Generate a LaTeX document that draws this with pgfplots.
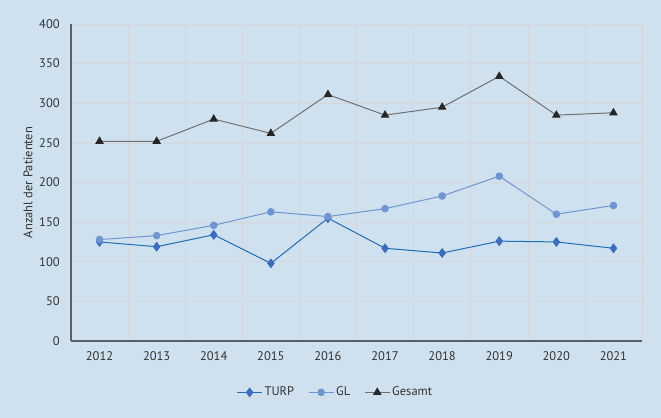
\documentclass[border=0pt]{standalone}
\usepackage{pgfplots}
\pgfplotsset{compat=1.18}
\usepackage{fontspec}
\setmainfont{PT Sans}
\definecolor{bg}{HTML}{CFE1EE}
\definecolor{gridc}{HTML}{D6D5DA}
\definecolor{axc}{HTML}{5A5F66}
\definecolor{turp}{HTML}{1F6DB8}
\definecolor{turpm}{HTML}{3A6CC0}
\definecolor{glc}{HTML}{6F96D0}
\definecolor{gesc}{HTML}{707070}
\begin{document}
\fontsize{12.5bp}{14bp}\selectfont
\begin{tikzpicture}
\fill[bg] (-71bp,-77bp) rectangle (590bp,341bp);
\useasboundingbox (-71bp,-77bp) rectangle (590bp,341bp);
\begin{axis}[
  at={(0,0)}, anchor=south west,
  scale only axis, width=571bp, height=317bp,
  xmin=2011.5, xmax=2021.5, ymin=0, ymax=400,
  xtick={2012,...,2021}, ytick={0,50,...,400},
  minor xtick={2012.5,2013.5,...,2021.5},
  xminorgrids, ymajorgrids,
  major grid style={gridc, line width=0.6bp},
  minor grid style={gridc, line width=0.6bp},
  axis x line*=bottom, axis y line*=left,
  axis line style={axc, line width=1.3bp, -},
  tick style={draw=none}, minor tick style={draw=none},
  /pgf/number format/1000 sep={},
  /pgf/number format/assume math mode=true,
  tick label style={font=\fontsize{12.5bp}{14bp}\selectfont, text=black!80},
  xticklabel style={yshift=-6bp},
  yticklabel style={xshift=-7bp},
  ylabel={Anzahl der Patienten},
  every axis y label/.style={at={([xshift=-43bp]rel axis cs:0,0.5)}, rotate=90, anchor=center,
    font=\fontsize{12.5bp}{14bp}\selectfont, text=black!80},
  legend columns=3,
  legend image code/.code={\draw[mark repeat=2,mark phase=2] plot coordinates {(0bp,0bp) (12.5bp,0bp) (25bp,0bp)};},
  legend style={at={(rel axis cs:0.463,-0.162)}, anchor=center, draw=none, fill=none,
    font=\fontsize{12.5bp}{14bp}\selectfont, text=black!80,
    /tikz/every even column/.append style={column sep=12bp}},
  legend cell align=left,
]
\addplot[turp, line width=1bp, mark=diamond*, mark size=4.2bp, mark options={fill=turpm, draw=turpm}]
  coordinates {(2012,125) (2013,119) (2014,134) (2015,98) (2016,155) (2017,117) (2018,111) (2019,126) (2020,125) (2021,117)};
\addlegendentry{TURP}
\addplot[glc, line width=1bp, mark=*, mark size=3.3bp, mark options={fill=glc, draw=glc}]
  coordinates {(2012,128) (2013,133) (2014,146) (2015,163) (2016,157) (2017,167) (2018,183) (2019,208) (2020,160) (2021,171)};
\addlegendentry{GL}
\addplot[gesc, line width=1bp, mark=triangle*, mark size=4bp, mark options={fill=black!85, draw=black!85}]
  coordinates {(2012,252) (2013,252) (2014,280) (2015,262) (2016,311) (2017,285) (2018,295) (2019,334) (2020,285) (2021,288)};
\addlegendentry{Gesamt}
\end{axis}
\end{tikzpicture}
\end{document}
